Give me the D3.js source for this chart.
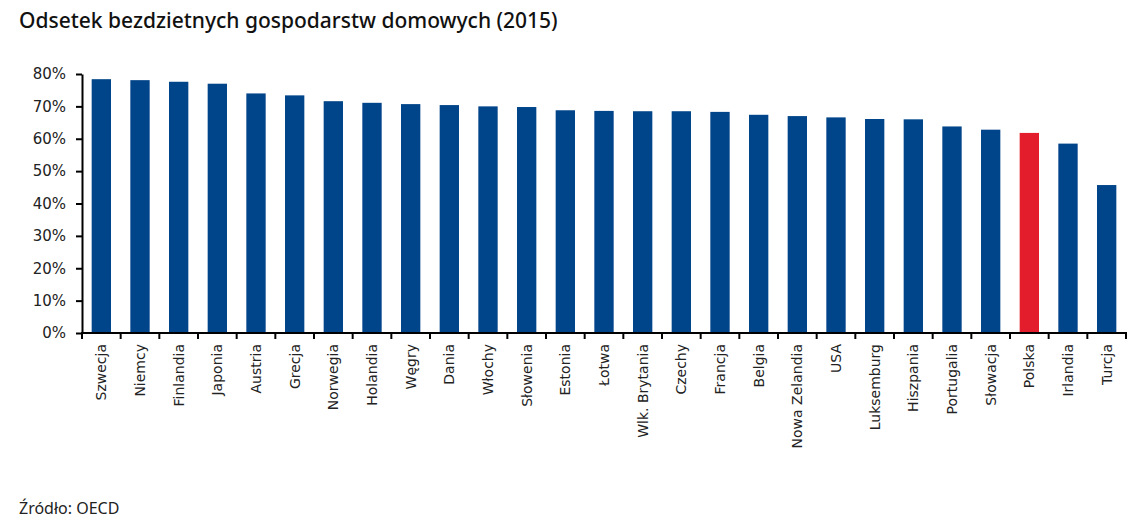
<!DOCTYPE html>
<html>
<head>
<meta charset="utf-8">
<script src="https://cdn.jsdelivr.net/npm/d3@7"></script>
<style>
  body { margin: 0; background: #fff; }
  svg { display: block; }
</style>
</head>
<body>
<div id="chart"></div>
<script>
const countries = ["Szwecja", "Niemcy", "Finlandia", "Japonia", "Austria", "Grecja", "Norwegia",
    "Holandia", "Węgry", "Dania", "Włochy", "Słowenia", "Estonia", "Łotwa", "Wlk. Brytania",
    "Czechy", "Francja", "Belgia", "Nowa Zelandia", "USA", "Luksemburg", "Hiszpania",
    "Portugalia", "Słowacja", "Polska", "Irlandia", "Turcja"];
const shares = [78.4, 78.1, 77.6, 77.0, 74.0, 73.4, 71.6, 71.1, 70.7, 70.4, 70.0, 69.8, 68.8,
    68.6, 68.5, 68.5, 68.3, 67.4, 67.0, 66.6, 66.1, 66.0, 63.8, 62.8, 61.8, 58.5, 45.7];
const highlight = ["Polska"];
const yTicks = [0, 10, 20, 30, 40, 50, 60, 70, 80];

const width = 1145, height = 529;
const svg = d3.select("#chart").append("svg")
    .attr("width", width)
    .attr("height", height);

const x = d3.scaleBand()
    .domain(countries)
    .range([82, 1126])
    .paddingInner(0.5)
    .paddingOuter(0.25);

const y = d3.scaleLinear()
    .domain([0, 80])
    .range([333, 74]);

// title
svg.append("text")
    .attr("x", 19)
    .attr("y", 28)
    .style("font-family", "'Noto Sans', sans-serif")
    .style("font-size", "21px")
    .style("font-weight", 500)
    .style("fill", "#111")
    .text("Odsetek bezdzietnych gospodarstw domowych (2015)");

// bars
svg.selectAll(".bar")
    .data(countries)
    .enter()
    .append("rect")
    .attr("class", "bar")
    .attr("x", d => x(d))
    .attr("width", x.bandwidth())
    .attr("y", (d, i) => y(shares[i]))
    .attr("height", (d, i) => y(0) - y(shares[i]))
    .attr("fill", d => highlight.includes(d) ? "#e31d2b" : "#004489");

// y axis
const yAxis = svg.append("g")
    .attr("transform", "translate(82,0)")
    .call(d3.axisLeft(y).tickValues(yTicks).tickFormat(d => d + "%").tickSize(6).tickSizeOuter(0));
yAxis.select(".domain").attr("stroke", "#000").attr("stroke-width", 2);
yAxis.selectAll(".tick line").attr("stroke", "#000").attr("stroke-width", 2);
yAxis.selectAll(".tick text")
    .attr("x", -16)
    .style("font-family", "'DejaVu Sans', sans-serif")
    .style("font-size", "15px")
    .style("fill", "#222");

// x axis: ticks at category boundaries
const step = x.step();
const edges = d3.range(countries.length + 1).map(i => 82 + i * step);
const xAxisG = svg.append("g").attr("transform", `translate(0,${y(0)})`);
xAxisG.append("line")
    .attr("x1", 81).attr("x2", 1127)
    .attr("stroke", "#000").attr("stroke-width", 2);
xAxisG.selectAll(".edge")
    .data(edges)
    .enter()
    .append("line")
    .attr("x1", d => d).attr("x2", d => d)
    .attr("y1", 0).attr("y2", 6)
    .attr("stroke", "#000").attr("stroke-width", 2);

xAxisG.selectAll(".label")
    .data(countries)
    .enter()
    .append("text")
    .attr("transform", d => `translate(${x(d) + x.bandwidth() / 2 + 5},11) rotate(-90)`)
    .attr("text-anchor", "end")
    .style("font-family", "'DejaVu Sans', sans-serif")
    .style("font-size", "14px")
    .style("fill", "#222")
    .text(d => d);

// source
svg.append("text")
    .attr("x", 19)
    .attr("y", 514)
    .style("font-family", "'Noto Sans', sans-serif")
    .style("font-size", "16px")
    .style("fill", "#222")
    .text("Źródło: OECD");
</script>
</body>
</html>
